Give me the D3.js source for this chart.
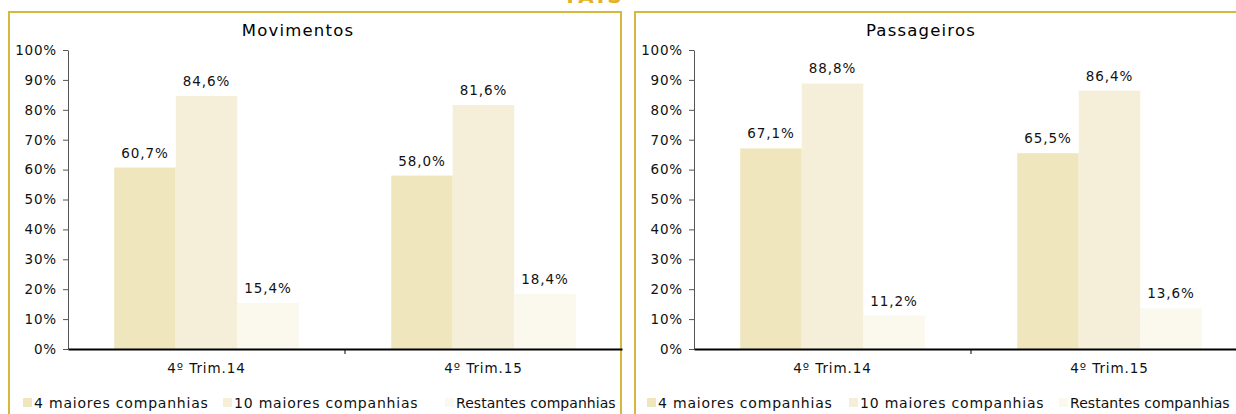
<!DOCTYPE html>
<html>
<head>
<meta charset="utf-8">
<script src="https://cdn.jsdelivr.net/npm/d3@7"></script>
<style>
  body { margin: 0; background: #fff; }
  svg { display: block; font-family: "DejaVu Sans", sans-serif; }
</style>
</head>
<body>
<div id="chart"></div>
<script>
// data
var categories = ["4º Trim.14", "4º Trim.15"];
var seriesNames = ["4 maiores companhias", "10 maiores companhias", "Restantes companhias"];
var movimentos = [[60.7, 84.6, 15.4], [58.0, 81.6, 18.4]];
var passageiros = [[67.1, 88.8, 11.2], [65.5, 86.4, 13.6]];
var yTicks = [0, 10, 20, 30, 40, 50, 60, 70, 80, 90, 100];

var colors = ["#F0E6BE", "#F5EFD9", "#FBF8EE"];
var gold = "#D6B83C";
var legendSpacing = [0.8, 0.8, 0.05];

var svgWidth = 1236;
var svgHeight = 414;

var svg = d3.select("#chart")
  .append("svg")
  .attr("width", svgWidth)
  .attr("height", svgHeight);

// header, cut off at the very top like in the original
svg.append("text")
  .attr("x", 594)
  .attr("y", 3)
  .attr("text-anchor", "middle")
  .attr("fill", "#E3B224")
  .attr("font-size", "20px")
  .attr("font-weight", "bold")
  .attr("letter-spacing", "3px")
  .text("TAIS");

// one panel
function drawPanel(opts) {
  // frame
  svg.append("rect")
    .attr("x", opts.frameX)
    .attr("y", 12)
    .attr("width", opts.frameW)
    .attr("height", 420)
    .attr("fill", "none")
    .attr("stroke", gold)
    .attr("stroke-width", 2);

  var g = svg.append("g");

  var x0 = d3.scaleBand()
    .domain(categories)
    .range([opts.axisX, opts.axisX + 554])
    .paddingInner(0)
    .paddingOuter(0);

  var x1 = d3.scaleBand()
    .domain(d3.range(seriesNames.length))
    .range([0, x0.bandwidth()])
    .paddingOuter(0.75);

  var y = d3.scaleLinear()
    .domain([0, 100])
    .range([349, 50]);

  // title
  g.append("text")
    .attr("x", opts.titleX)
    .attr("y", 36)
    .attr("text-anchor", "middle")
    .attr("font-size", "16.5px")
    .attr("letter-spacing", "1.2px")
    .attr("fill", "#000")
    .text(opts.title);

  // bars
  var groups = g.selectAll(".grp")
    .data(opts.values)
    .enter()
    .append("g")
    .attr("transform", (d, i) => `translate(${x0(categories[i])},0)`);

  groups.selectAll("rect")
    .data(d => d)
    .enter()
    .append("rect")
    .attr("x", (d, j) => x1(j))
    .attr("y", d => y(d))
    .attr("width", x1.bandwidth())
    .attr("height", d => y(0) - y(d))
    .attr("fill", (d, j) => colors[j]);

  groups.selectAll("text")
    .data(d => d)
    .enter()
    .append("text")
    .attr("x", (d, j) => x1(j) + x1.bandwidth() / 2)
    .attr("y", d => y(d) - 10)
    .attr("text-anchor", "middle")
    .attr("font-size", "13.5px")
    .attr("letter-spacing", "0.9px")
    .attr("fill", "#111")
    .text(d => d.toFixed(1).replace(".", ",") + "%");

  // y axis
  var leftAxis = d3.axisLeft(y)
    .tickValues(yTicks)
    .tickSize(5)
    .tickSizeOuter(0)
    .tickPadding(6)
    .tickFormat(d => d + "%");
  var yAxis = g.append("g")
    .attr("transform", `translate(${opts.axisX},0)`)
    .call(leftAxis);
  yAxis.select(".domain").attr("stroke", "#555");
  yAxis.selectAll(".tick line").attr("stroke", "#555");
  yAxis.selectAll("text")
    .attr("font-size", "13.5px")
    .attr("letter-spacing", "0.8px")
    .attr("fill", "#111")
    .attr("font-family", "DejaVu Sans");

  // x axis
  var bottomAxis = d3.axisBottom(x0)
    .tickSize(0)
    .tickPadding(14);
  var xAxis = g.append("g")
    .attr("transform", `translate(0,${y(0)})`)
    .call(bottomAxis);
  xAxis.select(".domain").attr("stroke", "#000").attr("stroke-width", 2);
  xAxis.selectAll("text")
    .attr("font-size", "13.5px")
    .attr("letter-spacing", "0.9px")
    .attr("fill", "#111")
    .attr("font-family", "DejaVu Sans");
  // tick marks between categories
  xAxis.selectAll(".sep")
    .data(categories.slice(1))
    .enter()
    .append("line")
    .attr("x1", d => x0(d))
    .attr("x2", d => x0(d))
    .attr("y1", 0)
    .attr("y2", 5)
    .attr("stroke", "#000");

  // legend
  var legend = g.selectAll(".leg")
    .data(seriesNames)
    .enter()
    .append("g")
    .attr("transform", (d, i) => `translate(${opts.legendX[i]},403)`);
  legend.append("rect")
    .attr("x", -11)
    .attr("y", -5)
    .attr("width", 9)
    .attr("height", 9)
    .attr("fill", (d, i) => colors[i]);
  legend.append("text")
    .attr("x", 0)
    .attr("y", 5)
    .attr("font-size", "14px")
    .attr("letter-spacing", (d, i) => legendSpacing[i] + "px")
    .attr("fill", "#111")
    .text(d => d);
}

drawPanel({
  title: "Movimentos",
  values: movimentos,
  frameX: 9, frameW: 612,
  axisX: 68, titleX: 298,
  legendX: [34, 234, 456]
});

drawPanel({
  title: "Passageiros",
  values: passageiros,
  frameX: 635, frameW: 700,
  axisX: 694, titleX: 921,
  legendX: [658, 860, 1070]
});
</script>
</body>
</html>
